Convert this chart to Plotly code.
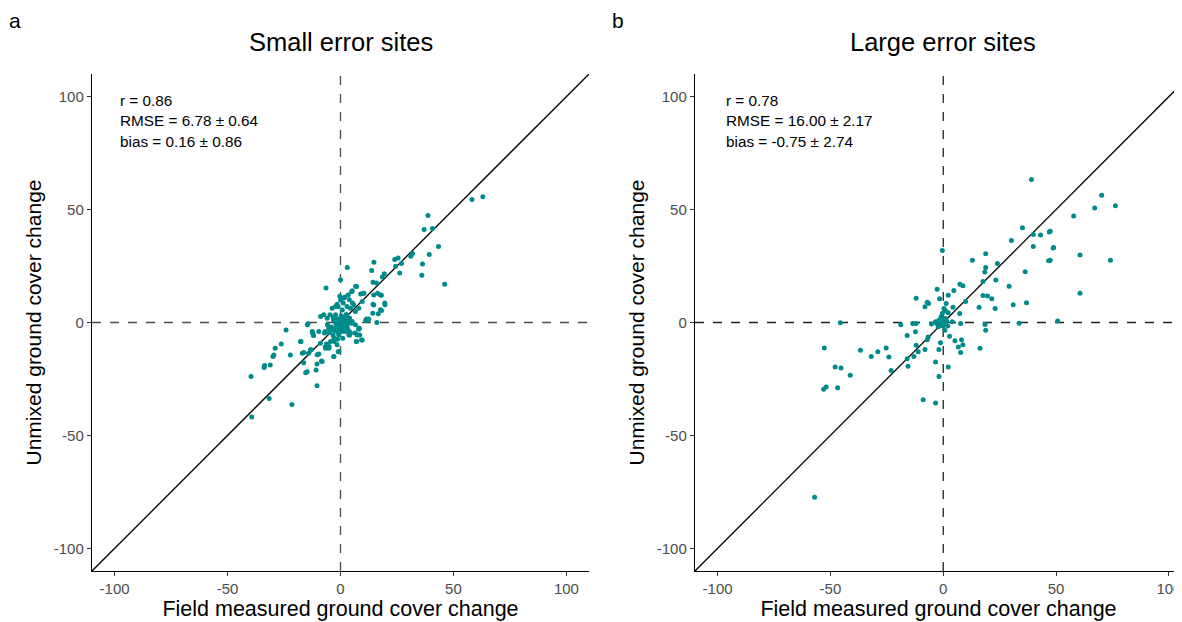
import plotly.graph_objects as go

# ---------------- data ----------------
small_x = [58.2, 63.0, 38.7, 37.0, 40.7, 43.4, 39.3, 31.9, 31.1, 36.3, 36.0, 46.1, 24.0, 25.5, 27.0,
           24.4, 26.2, 14.8, 13.8, 19.4, 18.5, 3.0, -6.4, 14.4, 15.9, 16.4, 18.1, 14.4, 19.7, 18.2,
           16.7, 10.4, 8.9, 6.7, 4.9, 11.1, 16.1, 12.3, 8.1, 8.5, 7.0, 9.6, 4.4, -1.0, -3.0,
           -5.2, -6.7, -8.9, -9.6, -10.4, -8.4, -12.3, -11.9, -14.4, -17.5, -16.3, -14.1, -12.9, -16.3, -14.8,
           -15.4, -10.8, -10.4, -24.1, -26.2, -28.9, -29.5, -29.9, -22.2, -33.6, -33.8, -31.1, -39.6, -31.6, -21.5,
           -39.3,
           0.0, 7.1, 5.2, 3.4, 1.5, 0.0, -1.5, -2.2, -3.7, 1.2, 2.9, 4.4, 5.9, 6.6, 8.1,
           9.6, 10.0, 14.7, 17.7, 19.6, 17.7, 14.7, 14.3, 11.5, 12.5, -8.8, -7.4, -5.9, -4.7, -3.2,
           -2.2, -1.2, 0.7, 2.2, 3.7, 5.2, 6.6, 8.1, -14.7, -12.5, -12.1, -9.6, -7.1, -5.2, -3.7,
           -2.2, -0.7, -1.5, 0.7, 2.2, 3.7, -2.9, -4.4, -5.9, -6.6, -1.5, -0.7, -17.7, -16.9, -13.3,
           -10.3, -8.1, -2.9, 7.1, 9.3, 7.4,
           0.5, -0.5, 1.0, -1.0, 0.0, 2.0, -2.0, 0.3, -0.3, 1.5, -1.5, 3.0, -3.0, 0.8, -0.8,
           2.5, -2.5, 4.0, -4.0, 1.0, -1.0, 3.0, -3.0, -0.3, 0.9, 2.4, 5.0, -4.3, -5.8, -6.8,
           -5.0, -3.3, 0.6, 2.1, 3.9, 4.1, 6.5, 8.3, -6.2, -5.0, -2.8, -1.3, 1.9, 3.9, 5.3]
small_y = [54.5, 55.7, 47.4, 41.2, 41.6, 33.6, 30.1, 30.5, 29.3, 25.9, 20.9, 16.9, 27.9, 28.6, 26.1,
           24.9, 21.9, 26.7, 23.0, 21.6, 20.1, 24.3, 15.3, 17.8, 17.5, 13.0, 12.1, 8.1, 7.9, 5.3,
           3.9, 13.0, 12.6, 16.0, 13.6, 0.9, 0.0, 1.2, -3.0, -5.5, -8.4, -7.7, -4.7, -12.9, -15.1,
           -11.4, -10.7, -9.2, -13.9, -18.4, -17.0, -4.7, -5.8, -0.6, -8.4, -13.3, -13.6, -12.1, -17.8, -21.8,
           -22.2, -21.0, -28.0, -3.3, -9.5, -11.4, -14.4, -15.1, -14.4, -19.0, -19.9, -18.8, -23.9, -33.6, -36.3,
           -41.8,
           18.9, 15.9, 14.0, 12.2, 10.8, 10.0, 8.1, 7.1, 6.3, 8.6, 7.1, 6.3, 7.8, 4.9, 6.3,
           9.3, 13.0, 12.2, 12.2, 8.6, 5.6, 7.8, 4.1, 1.6, 1.6, 2.7, 3.4, 1.9, 3.4, 1.9,
           3.4, 1.2, 1.9, 2.7, 1.2, 0.4, -1.0, -2.5, -1.0, -4.0, -5.5, -4.0, -4.7, -2.5, -3.2,
           -2.5, -1.0, -4.0, -3.2, -4.0, -5.5, -6.9, -8.4, -9.9, -11.4, -9.9, -12.8, -8.4, -13.6, -12.1,
           -14.3, -17.3, -15.0, -8.4, -7.7, -5.5,
           0.5, -0.5, -1.5, 1.5, -2.0, 0.5, -0.5, 3.0, -3.0, -0.3, 0.3, -1.0, 1.0, 5.5, -5.5,
           3.5, -3.5, 2.0, -2.0, -7.0, 7.0, -2.5, 2.5, 11.6, 0.0, -0.6, -0.3, -2.5, -1.0, -4.0,
           -4.4, -5.5, -4.0, -3.0, -4.0, -5.5, -4.7, -2.5, -9.5, -10.7, -8.4, -7.4, 11.3, 10.1, 8.6]

large_x = [39.1, 70.2, 76.3, 67.1, 57.8, 35.1, 30.2, 39.9, 43.1, 47.0, 48.7, 39.9, 46.7, 60.6, 74.1,
           60.6, 36.3, 24.0, 18.8, 12.9, 18.8, 18.4, 17.6, 23.3, 29.2, 17.6, 19.6, 21.5, 23.0, 31.0,
           36.9, 15.9, 33.6, 50.7, 18.5, 18.8, 16.3, -0.4, 7.4, 8.7, 4.7, 2.2, -2.7, -1.6, -12.0,
           -7.1, -6.5, -8.1, 1.3, 4.3, 9.9, 7.3, 0.3, 1.0, 2.2, -0.4, 4.0, 7.7, 0.3, 1.0,
           -0.7, -1.9, -3.4, -5.2, -0.1, -2.2, 0.7, 2.8, -18.8, -13.5, -12.0, -12.3, -16.0, -6.7, -7.1,
           -8.1, -12.0, -11.1, -13.0, -16.0, -15.6, -1.9, -1.2, 5.2, 6.7, 8.1, 8.7, 7.7, 2.2, -3.4,
           -1.9, -8.9, -3.4, -23.1, -25.3, -24.1, -29.0, -31.9, -36.7, -41.2, -45.6, -45.3, -47.9, -52.7, -46.8,
           -51.9, -53.0, -57.0, 48.9, 47.4, 47.4,
           -3.4, -1.9, 1.0, 0.6, -0.6, 1.5, -1.0, 2.0, 0.2, -2.5]
large_y = [63.3, 56.3, 51.7, 50.7, 47.1, 41.9, 36.3, 39.0, 38.7, 40.1, 33.0, 33.6, 27.3, 29.9, 27.6,
           13.0, 22.5, 26.1, 30.4, 27.6, 24.3, 22.4, 18.1, 18.8, 16.0, 12.0, 11.7, 10.5, 6.2, 7.9,
           8.7, 6.8, -0.3, 0.7, -0.9, -3.4, -11.4, 31.9, 16.9, 16.3, 14.2, 12.1, 14.7, 10.5, 10.7,
           9.0, 8.4, 7.0, 8.4, 6.7, 9.3, 4.0, 6.2, 5.2, 4.3, 4.0, 0.3, -0.4, 1.0, 1.8,
           -0.4, 0.7, -0.1, -0.7, -1.6, -1.9, -3.4, -6.1, -1.0, -0.4, -0.4, -4.1, -5.8, -6.4, -7.6,
           -12.0, -10.1, -13.0, -15.0, -16.0, -19.4, -12.0, -9.0, -8.1, -10.8, -7.6, -9.8, -13.3, -19.7, -17.5,
           -23.9, -34.2, -35.6, -21.2, -11.3, -15.3, -12.9, -15.0, -12.3, -23.4, -0.1, -20.1, -19.7, -11.3, -28.9,
           -28.6, -29.5, -77.4, 33.2, 40.4, 27.6,
           0.3, 1.0, -0.7, 1.5, -1.2, 0.8, 2.5, -1.5, -0.2, -0.8]

one_to_one = [-110, 110]
axis_ticks = [-100, -50, 0, 50, 100]
axis_tick_labels = ["-100", "-50", "0", "50", "100"]
small_stats = ["r = 0.86", "RMSE = 6.78 \u00b1 0.64", "bias = 0.16 \u00b1 0.86"]
large_stats = ["r = 0.78", "RMSE = 16.00 \u00b1 2.17", "bias = -0.75 \u00b1 2.74"]

# ---------------- figure ----------------
# the page body adds an 8 px offset; build the figure in screen coords minus that offset
OFF = 8
W, H = 1182 - OFF, 622 - OFF
FONT = "Liberation Sans, Arial, sans-serif"
TEAL = "#008B8B"


def fx(px):
    return (px - OFF) / W


def fy(py):
    return 1 - (py - OFF) / H


fig = go.Figure()

for xs, ys, xa, ya in [(small_x, small_y, "x", "y"), (large_x, large_y, "x2", "y2")]:
    fig.add_trace(go.Scatter(x=one_to_one, y=one_to_one, mode="lines",
                             line=dict(color="black", width=1.3),
                             xaxis=xa, yaxis=ya, hoverinfo="skip", showlegend=False))
    fig.add_trace(go.Scatter(x=xs, y=ys, mode="markers",
                             marker=dict(color=TEAL, size=5, line=dict(width=0)),
                             xaxis=xa, yaxis=ya, showlegend=False, cliponaxis=False))

for xr, yr, col in [("x", "y", "#4a4a4a"), ("x2", "y2", "#222222")]:
    fig.add_shape(type="line", xref=xr, yref=yr, x0=0, x1=0, y0=one_to_one[0], y1=one_to_one[1],
                  line=dict(color=col, width=1.3, dash="dash"), layer="below")
    fig.add_shape(type="line", xref=xr, yref=yr, y0=0, y1=0, x0=one_to_one[0], x1=one_to_one[1],
                  line=dict(color=col, width=1.3, dash="dash"), layer="below")

left_px, right_px = 92, 589
left2_px = 695
top_px, bot_px = 74, 571

ax_common = dict(showline=True, linecolor="black", linewidth=1.4, ticks="outside", ticklen=4,
                 tickcolor="#333333", tickwidth=1, tickmode="array",
                 tickvals=axis_ticks, ticktext=axis_tick_labels,
                 tickfont=dict(family=FONT, size=15, color="#4d4d4d"),
                 showgrid=False, zeroline=False)

xtitle = dict(text="Field measured ground cover change", font=dict(family=FONT, size=21.5, color="black"),
              standoff=0)
ytitle = dict(text="Unmixed ground cover change", font=dict(family=FONT, size=21, color="black"),
              standoff=6)

fig.update_layout(
    width=W, height=H,
    margin=dict(l=0, r=0, t=0, b=0, autoexpand=False),
    paper_bgcolor="white", plot_bgcolor="white",
    xaxis=dict(domain=[fx(left_px), fx(right_px)], range=[-110, 110], anchor="y",
               title=xtitle, **ax_common),
    yaxis=dict(domain=[fy(bot_px), fy(top_px)], range=[-110, 110], anchor="x",
               title=ytitle, **ax_common),
    xaxis2=dict(domain=[fx(left2_px), 1.0], range=[-110, 105.8], anchor="y2",
                title=xtitle, **ax_common),
    yaxis2=dict(domain=[fy(bot_px), fy(top_px)], range=[-110, 110], anchor="x2",
                title=ytitle, **ax_common),
)

annotations = []
# panel titles
for txt, cx in [("Small error sites", (left_px + right_px) / 2), ("Large error sites", 943)]:
    annotations.append(dict(text=txt, x=fx(cx), y=fy(42), xref="paper", yref="paper",
                            xanchor="center", yanchor="middle", showarrow=False,
                            font=dict(family=FONT, size=25.5, color="black")))
# panel letters (anchored at the top edge so they are not clipped)
for txt, px in [("a", 8), ("b", 611)]:
    annotations.append(dict(text=txt, x=fx(px), y=1.0, xref="paper", yref="paper",
                            xanchor="left", yanchor="top", showarrow=False, borderpad=0,
                            font=dict(family=FONT, size=21, color="black")))
# stats text
for lines, px in [(small_stats, 118), (large_stats, 724)]:
    for i, ln in enumerate(lines):
        annotations.append(dict(text=ln, x=fx(px), y=fy(100 + 20.5 * i), xref="paper", yref="paper",
                                xanchor="left", yanchor="middle", showarrow=False,
                                font=dict(family=FONT, size=15.3, color="black")))
fig.update_layout(annotations=annotations)

fig.write_html("out.html")
